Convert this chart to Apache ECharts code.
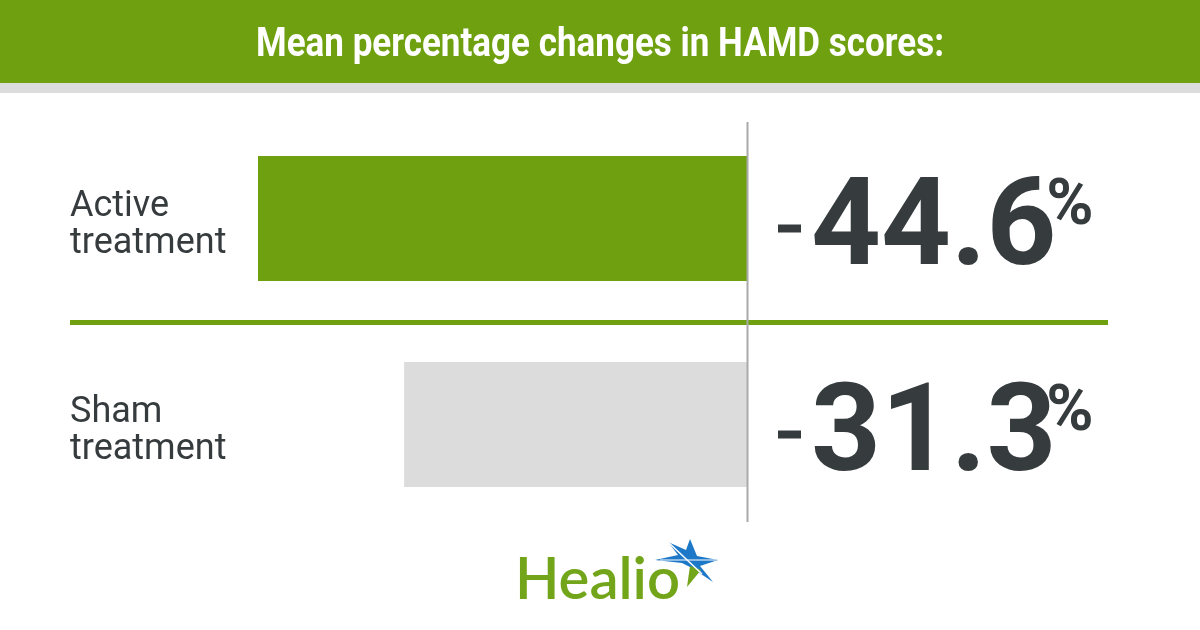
<!DOCTYPE html>
<html>
<head>
<meta charset="utf-8">
<script src="https://cdn.jsdelivr.net/npm/echarts@6/dist/echarts.min.js"></script>
<style>
html,body{margin:0;padding:0;background:#fff;}
#c{width:1200px;height:630px;}
</style>
</head>
<body>
<div id="c"></div>
<script>
const titleText = 'Mean percentage changes in HAMD scores:';
const categories = ['Active\ntreatment', 'Sham\ntreatment'];
const values = [-44.6, -31.3];
const barColors = ['#6FA010', '#DCDCDC'];

const GREEN = '#6FA010';
const DARK = '#363B3E';

const cv = document.createElement('canvas').getContext('2d');
cv.font = 'bold 40px Roboto';
const titleScale = 688 / cv.measureText(titleText).width;
cv.font = 'bold 122px Roboto';
const numW = cv.measureText(Math.abs(values[0]).toFixed(1)).width;

const chart = echarts.init(document.getElementById('c'), null, {renderer: 'canvas'});
const option = {
  backgroundColor: '#ffffff',
  animation: false,
  grid: {left: 258, right: 452, top: 115.5, height: 412},
  xAxis: {
    type: 'value', min: Math.min(...values), max: 0,
    show: false
  },
  yAxis: {
    type: 'category', data: categories, inverse: true,
    axisLine: {show: false}, axisTick: {show: false},
    axisLabel: {
      align: 'left', margin: 188,
      formatter: v => {
        const parts = v.split('\n');
        return '{t|' + parts[0] + '}\n{b|' + parts[1] + '}';
      },
      rich: {
        t: {fontFamily: 'Roboto', fontSize: 36, lineHeight: 38, color: DARK, padding: [14, 0, 0, 0]},
        b: {fontFamily: 'Roboto', fontSize: 36, lineHeight: 38, color: DARK, padding: [12, 0, 0, 0]}
      }
    }
  },
  series: [{
    type: 'bar',
    barWidth: 125,
    data: values.map((v, i) => ({value: v, itemStyle: {color: barColors[i]}})),
    label: {
      show: true, position: 'right', distance: 30, offset: [0, 10],
      formatter: p => '{m|}{n|' + Math.abs(p.value).toFixed(1) + '}{p|%}',
      rich: {
        m: {width: 23, height: 8, backgroundColor: DARK, padding: 0},
        n: {fontFamily: 'Roboto', fontWeight: 'bold', fontSize: 122, color: DARK, padding: [10, 0, 0, 10], width: numW - 10},
        p: {fontFamily: 'Roboto', fontWeight: 'bold', fontSize: 64, color: DARK, verticalAlign: 'top', padding: [13, 0, 0, 0]}
      }
    }
  }],
  graphic: [
    {type: 'rect', shape: {x: 0, y: 0, width: 1200, height: 83}, style: {fill: GREEN}, z: -1},
    {type: 'rect', shape: {x: 0, y: 83, width: 1200, height: 10}, style: {fill: '#DCDCDC'}, z: -1},
    {type: 'text', x: 600, y: 46, scaleX: titleScale,
      style: {text: titleText, font: 'bold 40px Roboto', fill: '#ffffff', align: 'center', verticalAlign: 'middle'}},
    {type: 'rect', shape: {x: 70, y: 320, width: 1038, height: 5}, style: {fill: GREEN}, z: 5},
    {type: 'line', shape: {x1: 747.5, y1: 122, x2: 747.5, y2: 522}, style: {stroke: '#AAAAAA', lineWidth: 2}, z: 6},
    {type: 'text', x: 515, y: 580,
      style: {text: 'Healio', font: '600 58px Lato', fill: '#72A51A', verticalAlign: 'middle'}},
    {type: 'polygon', shape: {points: [[655,560],[678,555],[668,542],[686,550],[690,539],[697,556],[718,560],[700,566],[713,582],[692,568],[682,563]]},
      style: {fill: '#1E78C8'}},
    {type: 'polygon', shape: {points: [[690,566],[701,570],[687,587]]}, style: {fill: '#72A51A'}},
    {type: 'polyline', shape: {points: [[668,542],[702,574]]}, style: {stroke: '#ffffff', lineWidth: 1.5}},
    {type: 'polyline', shape: {points: [[660,560],[716,560]]}, style: {stroke: '#ffffff', lineWidth: 1.2}}
  ]
};
chart.setOption(option);
</script>
</body>
</html>
